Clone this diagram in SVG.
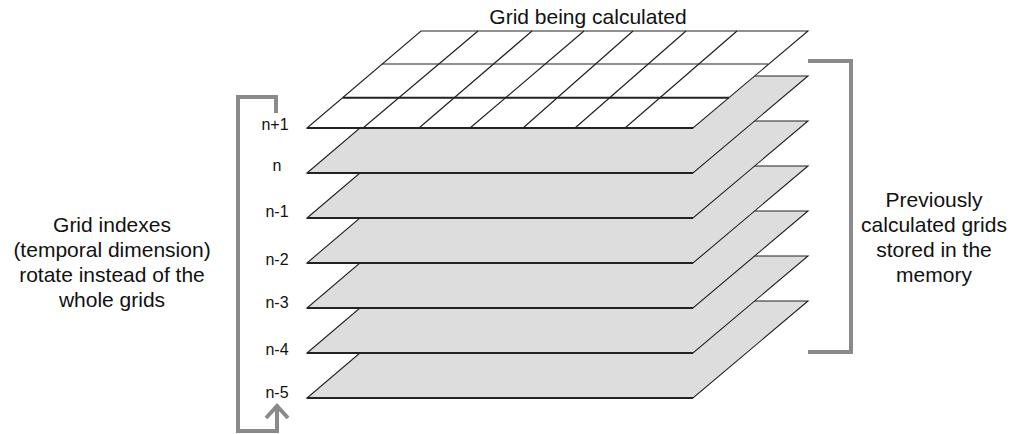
<svg xmlns="http://www.w3.org/2000/svg" width="1013" height="434" viewBox="0 0 1013 434">
<style>
text{font-family:"Liberation Sans",Arial,sans-serif;fill:#111}
.lbl{font-size:16px;text-anchor:middle}
.big{font-size:21px;text-anchor:middle}
.plane{fill:#dddddd;stroke:#222;stroke-width:1.1;stroke-linejoin:miter}
.edge{fill:none;stroke:#222;stroke-width:2}
.top{fill:#fff;stroke:#222;stroke-width:1.1}
.gl{stroke:#222;stroke-width:1.2;fill:none}
.br{fill:none;stroke:#8a8a8a;stroke-width:4;stroke-linejoin:miter}
</style>
<defs>
<g id="pl"><polygon class="plane" points="307,0 693,0 808,-97 421,-97"/><line class="edge" x1="307" y1="0" x2="693" y2="0"/></g>
</defs>
<text class="big" x="588" y="24">Grid being calculated</text>
<g id="plane-n-5"><use href="#pl" transform="translate(0,398)"/><text class="lbl" x="277" y="398">n-5</text></g>
<g id="plane-n-4"><use href="#pl" transform="translate(0,353)"/><text class="lbl" x="277" y="355">n-4</text></g>
<g id="plane-n-3"><use href="#pl" transform="translate(0,308)"/><text class="lbl" x="277" y="308">n-3</text></g>
<g id="plane-n-2"><use href="#pl" transform="translate(0,263)"/><text class="lbl" x="277" y="265">n-2</text></g>
<g id="plane-n-1"><use href="#pl" transform="translate(0,218)"/><text class="lbl" x="277" y="217">n-1</text></g>
<g id="plane-n"><use href="#pl" transform="translate(0,173)"/><text class="lbl" x="277" y="171">n</text></g>
<g id="grid-n1">
<polygon class="top" points="307,128 693,128 808,31 421,31"/>
<line class="edge" x1="307" y1="128" x2="693" y2="128"/>
<line class="gl" x1="382" y1="64" x2="768" y2="64"/>
<line class="edge" x1="343" y1="97.7" x2="729" y2="97.7"/>
<path class="gl" d="M363,128L478,31M419,128L532,31M470,128L584,31M523,128L633,31M575,128L686,31M625,128L737,31"/>
<text class="lbl" x="275" y="130">n+1</text>
</g>
<g id="connectors">
<path class="br" d="M276,113V97H238V431H277V407"/>
<path class="br" d="M266,418L277,406L288,418"/>
<path class="br" d="M808,61H851V352H808"/>
</g>
<g id="left-note"><text class="big" x="112" y="232"><tspan x="112">Grid indexes</tspan><tspan x="112" dy="25">(temporal dimension)</tspan><tspan x="112" dy="25">rotate instead of the</tspan><tspan x="112" dy="25">whole grids</tspan></text></g>
<g id="right-note"><text class="big" x="934" y="207"><tspan x="934">Previously</tspan><tspan x="934" dy="25">calculated grids</tspan><tspan x="934" dy="25">stored in the</tspan><tspan x="934" dy="25">memory</tspan></text></g>
</svg>
